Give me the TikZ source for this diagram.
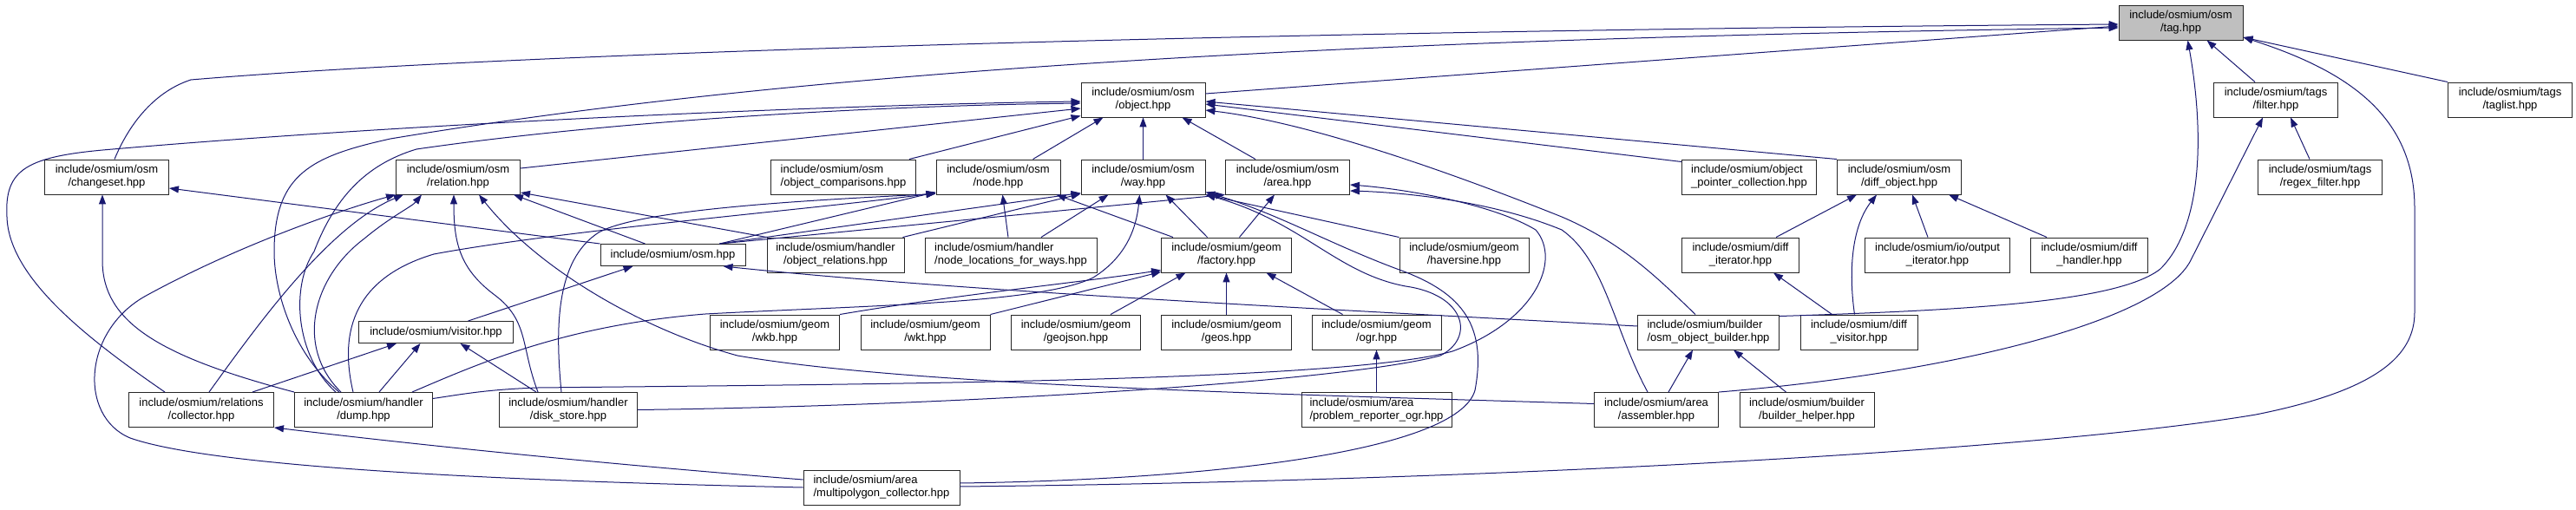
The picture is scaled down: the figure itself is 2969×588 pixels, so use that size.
\documentclass[tikz,border=0pt]{standalone}
\usepackage{fontspec}
\setmainfont{Liberation Sans}
\usetikzlibrary{arrows.meta,calc}
\definecolor{edgecol}{HTML}{191970}
\definecolor{tagfill}{HTML}{BFBFBF}
\begin{document}
\begin{tikzpicture}[x=1pt,y=-1pt,
  box/.style={draw=black!85, line width=0.95pt, inner sep=0pt, minimum height=40pt, font=\fontsize{13}{15}\selectfont, align=center, fill=white},
  lbox/.style={box, align=left},
  onebox/.style={box, minimum height=25pt},
  dep/.style={draw=edgecol, line width=1pt, -{Triangle[length=11pt,width=8pt]}}]
\useasboundingbox[fill=white] (0,0) rectangle (2969,588);

% row 1
\node[box, fill=tagfill, minimum width=143pt] (tag) at (2513.5,26) {include/osmium/osm\\/tag.hpp};
% row 2
\node[box, minimum width=143pt] (object) at (1317.5,115) {include/osmium/osm\\/object.hpp};
\node[box, minimum width=143pt] (filter) at (2623,115) {include/osmium/tags\\/filter.hpp};
\node[box, minimum width=143pt] (taglist) at (2893,115) {include/osmium/tags\\/taglist.hpp};
% row 3
\node[box, minimum width=143pt] (changeset) at (123,204) {include/osmium/osm\\/changeset.hpp};
\node[box, minimum width=143pt] (relation) at (528,204) {include/osmium/osm\\/relation.hpp};
\node[lbox, minimum width=167pt] (objcmp) at (972,204) {include/osmium/osm\\/object\_comparisons.hpp};
\node[box, minimum width=143pt] (node) at (1150.5,204) {include/osmium/osm\\/node.hpp};
\node[box, minimum width=143pt] (way) at (1317.5,204) {include/osmium/osm\\/way.hpp};
\node[box, minimum width=143pt] (area) at (1484,204) {include/osmium/osm\\/area.hpp};
\node[lbox, minimum width=155pt] (objptr) at (2016,204) {include/osmium/object\\\_pointer\_collection.hpp};
\node[box, minimum width=143pt] (diffobj) at (2189,204) {include/osmium/osm\\/diff\_object.hpp};
\node[box, minimum width=143pt] (regex) at (2674,204) {include/osmium/tags\\/regex\_filter.hpp};
% row 4
\node[onebox, minimum width=167pt] (osm) at (775.5,294) {include/osmium/osm.hpp};
\node[box, minimum width=158pt] (objrel) at (963,294) {include/osmium/handler\\/object\_relations.hpp};
\node[lbox, minimum width=198pt] (nodeloc) at (1165,294) {include/osmium/handler\\/node\_locations\_for\_ways.hpp};
\node[box, minimum width=150pt] (factory) at (1413.5,294) {include/osmium/geom\\/factory.hpp};
\node[box, minimum width=149pt] (haversine) at (1687.5,294) {include/osmium/geom\\/haversine.hpp};
\node[box, minimum width=135pt] (diffiter) at (2006,294) {include/osmium/diff\\\_iterator.hpp};
\node[box, minimum width=167pt] (outiter) at (2233,294) {include/osmium/io/output\\\_iterator.hpp};
\node[box, minimum width=135pt] (diffhandler) at (2408,294) {include/osmium/diff\\\_handler.hpp};
% row 5
\node[onebox, minimum width=178pt] (visitor) at (502.5,383) {include/osmium/visitor.hpp};
\node[box, minimum width=149pt] (wkb) at (893,383) {include/osmium/geom\\/wkb.hpp};
\node[box, minimum width=149pt] (wkt) at (1066.5,383) {include/osmium/geom\\/wkt.hpp};
\node[box, minimum width=149pt] (geojson) at (1240,383) {include/osmium/geom\\/geojson.hpp};
\node[box, minimum width=150pt] (geos) at (1413.5,383) {include/osmium/geom\\/geos.hpp};
\node[box, minimum width=149pt] (ogr) at (1586.5,383) {include/osmium/geom\\/ogr.hpp};
\node[lbox, minimum width=163pt] (oob) at (1969,383) {include/osmium/builder\\/osm\_object\_builder.hpp};
\node[box, minimum width=135pt] (diffvis) at (2142.5,383) {include/osmium/diff\\\_visitor.hpp};
% row 6
\node[box, minimum width=167pt] (collector) at (232,472.5) {include/osmium/relations\\/collector.hpp};
\node[box, minimum width=159pt] (dump) at (419,472.5) {include/osmium/handler\\/dump.hpp};
\node[box, minimum width=159pt] (diskstore) at (655,472.5) {include/osmium/handler\\/disk\_store.hpp};
\node[lbox, minimum width=173pt] (probrep) at (1586.5,472.5) {include/osmium/area\\/problem\_reporter\_ogr.hpp};
\node[box, minimum width=143pt] (assembler) at (1909,472.5) {include/osmium/area\\/assembler.hpp};
\node[box, minimum width=155pt] (bhelper) at (2082.5,472.5) {include/osmium/builder\\/builder\_helper.hpp};
% row 7
\node[lbox, minimum width=180pt] (mpc) at (1016,562) {include/osmium/area\\/multipolygon\_collector.hpp};

% ---- edges into tag
\draw[dep] ($(changeset.north)+(9,0)$) .. controls (150,140) and (180,105) .. (220,92) .. controls (600,60) and (1500,35) .. ($(tag.west)+(0,2)$);
\draw[dep] ($(dump.north)+(-28,0)$) .. controls (340,410) and (316,340) .. (316,290) .. controls (316,200) and (360,180) .. (450,160) .. controls (900,85) and (1500,45) .. ($(tag.west)+(0,6)$);
\draw[dep] ($(object.east)+(0,-7)$) -- ($(tag.west)+(0,4)$);
\draw[dep] ($(oob.north east)+(0,2)$) .. controls (2250,358) and (2440,350) .. (2490,310) .. controls (2540,260) and (2540,150) .. ($(tag.south)+(8,0)$);
\draw[dep] ($(filter.north)+(-24,0)$) -- ($(tag.south)+(30,0)$);
\draw[dep] (taglist.north west) -- ($(tag.east)+(0,17)$);
\draw[dep] ($(mpc.east)+(0,-1)$) .. controls (1700,555) and (2350,520) .. (2600,478) .. controls (2740,450) and (2783,410) .. (2783,360) -- (2783,240) .. controls (2783,130) and (2700,80) .. ($(tag.east)+(0,17)$);

% ---- filter
\draw[dep] ($(regex.north)+(-12,0)$) -- ($(filter.south)+(17,0)$);
\draw[dep] (assembler.north east) .. controls (2250,430) and (2490,370) .. (2525,300) -- ($(filter.south)+(-15,0)$);

% ---- object
\draw[dep] ($(collector.north)+(-42,0)$) .. controls (100,390) and (10,320) .. (8,250) .. controls (5,195) and (30,180) .. (130,172) .. controls (500,140) and (1000,120) .. ($(object.west)+(0,2)$);
\draw[dep] ($(dump.north)+(-32,0)$) .. controls (340,410) and (335,330) .. (362,290) .. controls (385,230) and (420,190) .. (480,172) .. controls (700,140) and (1000,122) .. ($(object.west)+(0,4)$);
\draw[dep] ($(relation.east)+(0,-10)$) -- ($(object.west)+(0,10)$);
\draw[dep] ($(objcmp.north east)+(-8,0)$) -- ($(object.south west)+(0,-2)$);
\draw[dep] ($(node.north)+(40,0)$) -- ($(object.south)+(-46,0)$);
\draw[dep] (way.north) -- (object.south);
\draw[dep] ($(area.north)+(-37,0)$) -- ($(object.south)+(45,0)$);
\draw[dep] ($(objptr.north west)+(0,3)$) -- ($(object.east)+(0,5)$);
\draw[dep] (diffobj.north west) -- ($(object.east)+(0,2)$);
\draw[dep] ($(oob.north)+(-15,0)$) .. controls (1910,320) and (1870,280) .. (1800,250) .. controls (1650,190) and (1500,140) .. ($(object.east)+(0,12)$);

% ---- changeset
\draw[dep] (osm.north west) -- ($(changeset.east)+(0,13)$);
\draw[dep] (dump.north west) .. controls (180,410) and (118,370) .. (118,300) -- ($(changeset.south)+(-5,0)$);

% ---- relation
\draw[dep] (mpc.west) .. controls (600,555) and (250,540) .. (150,505) .. controls (90,480) and (95,380) .. (170,340) .. controls (280,280) and (400,240) .. (relation.south west);
\draw[dep] ($(collector.north)+(9,0)$) .. controls (300,370) and (380,260) .. ($(relation.south)+(-63,0)$);
\draw[dep] ($(dump.north)+(-26,0)$) .. controls (340,400) and (360,320) .. (420,275) .. controls (450,250) and (475,238) .. ($(relation.south)+(-42,0)$);
\draw[dep] ($(diskstore.north west)+(45,0)$) .. controls (600,400) and (610,370) .. (570,340) .. controls (530,310) and (523,280) .. ($(relation.south)+(-5,0)$);
\draw[dep] ($(osm.north)+(-32,0)$) -- ($(relation.south east)+(-8,0)$);
\draw[dep] (objrel.north west) -- ($(relation.east)+(0,18)$);
\draw[dep] ($(assembler.west)+(0,-7)$) .. controls (1500,455) and (1050,445) .. (850,410) .. controls (740,380) and (620,310) .. ($(relation.south)+(24,0)$);

% ---- node
\draw[dep] ($(osm.north east)+(-30,0)$) -- ($(node.south west)+(0,-3)$);
\draw[dep] ($(dump.north)+(-12,0)$) .. controls (390,380) and (410,320) .. (500,293) .. controls (650,265) and (950,240) .. ($(node.south west)+(0,-2)$);
\draw[dep] ($(diskstore.north)+(-8,0)$) .. controls (640,380) and (640,300) .. (690,268) .. controls (740,240) and (950,230) .. ($(node.south west)+(0,-1)$);
\draw[dep] ($(nodeloc.north)+(-3,0)$) -- ($(node.south)+(5,0)$);
\draw[dep] ($(factory.north west)+(14,0)$) -- ($(node.south east)+(-5,0)$);

% ---- way
\draw[dep] ($(osm.north east)+(-30,0)$) -- ($(way.south west)+(0,-2)$);
\draw[dep] ($(objrel.north east)+(-2,0)$) -- ($(way.south west)+(0,-1)$);
\draw[dep] ($(nodeloc.north)+(35,0)$) -- ($(way.south)+(-40,0)$);
\draw[dep] ($(factory.north)+(-22,0)$) -- ($(way.south)+(26,0)$);
\draw[dep] (haversine.north west) -- (way.south east);
\draw[dep] ($(dump.north east)+(-24,0)$) .. controls (550,420) and (650,375) .. (813,362) .. controls (1000,352) and (1200,350) .. (1260,320) .. controls (1300,295) and (1310,260) .. ($(way.south)+(-4,0)$);
\draw[dep] (diskstore.east) .. controls (1100,468) and (1550,440) .. (1660,410) .. controls (1700,390) and (1690,340) .. (1620,330) .. controls (1540,315) and (1500,255) .. (way.south east);
\draw[dep] ($(mpc.east)+(0,-5)$) .. controls (1400,553) and (1680,520) .. (1700,450) .. controls (1715,370) and (1680,335) .. (1610,310) .. controls (1530,280) and (1470,245) .. ($(way.south east)+(0,-3)$);

% ---- area
\draw[dep] ($(osm.north east)+(-30,0)$) -- (area.south west);
\draw[dep] ($(factory.north)+(15,0)$) -- ($(area.south)+(-15,0)$);
\draw[dep] ($(dump.east)+(0,-13)$) .. controls (530,455) and (560,449) .. (620,447) .. controls (1000,443) and (1550,440) .. (1674,405) .. controls (1770,370) and (1800,300) .. (1770,265) .. controls (1720,235) and (1620,218) .. ($(area.east)+(0,9)$);
\draw[dep] ($(assembler.north)+(-10,0)$) .. controls (1860,380) and (1850,300) .. (1800,265) .. controls (1720,232) and (1620,222) .. ($(area.east)+(0,16)$);

% ---- osm.hpp
\draw[dep] ($(visitor.north)+(37,0)$) -- ($(osm.south)+(-46,0)$);
\draw[dep] ($(oob.west)+(0,-7)$) .. controls (1500,355) and (1100,335) .. ($(osm.south east)+(-26,0)$);

% ---- visitor
\draw[dep] ($(dump.north)+(18,0)$) -- ($(visitor.south)+(-18,0)$);
\draw[dep] ($(collector.north east)+(-25,0)$) -- ($(visitor.south west)+(44,0)$);
\draw[dep] ($(diskstore.north west)+(43,0)$) -- ($(visitor.south)+(28,0)$);

% ---- factory
\draw[dep] (wkb.north east) .. controls (1100,340) and (1250,325) .. ($(factory.south west)+(0,-3)$);
\draw[dep] (wkt.north east) -- ($(factory.south west)+(0,-1)$);
\draw[dep] ($(geojson.north east)+(-35,0)$) -- ($(factory.south)+(-47,0)$);
\draw[dep] (geos.north) -- (factory.south);
\draw[dep] ($(ogr.north)+(-39,0)$) -- ($(factory.south)+(46,0)$);
\draw[dep] (probrep.north) -- (ogr.south);

% ---- diff
\draw[dep] ($(diffiter.north)+(41,0)$) -- ($(diffobj.south)+(-49,0)$);
\draw[dep] ($(diffvis.north)+(-5,0)$) .. controls (2130,310) and (2135,260) .. ($(diffobj.south)+(-26,0)$);
\draw[dep] ($(outiter.north)+(-11,0)$) -- ($(diffobj.south)+(15,0)$);
\draw[dep] ($(diffhandler.north west)+(19,0)$) -- ($(diffobj.south east)+(-15,0)$);
\draw[dep] ($(diffvis.north west)+(37,0)$) -- ($(diffiter.south)+(38,0)$);

% ---- builder
\draw[dep] ($(assembler.north)+(14,0)$) -- ($(oob.south)+(-18,0)$);
\draw[dep] ($(bhelper.north)+(-24,0)$) -- ($(oob.south)+(29,0)$);

% ---- collector
\draw[dep] ($(mpc.west)+(0,-9)$) .. controls (700,535) and (500,515) .. (collector.south east);
\end{tikzpicture}
\end{document}
